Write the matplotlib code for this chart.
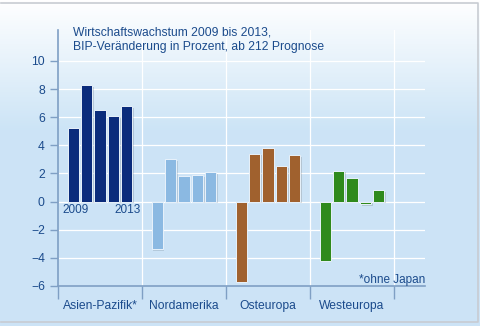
import matplotlib.pyplot as plt
import matplotlib.patheffects as pe
import numpy as np

plt.rcParams['font.family'] = ['Liberation Sans', 'DejaVu Sans']

regions = ['Asien-Pazifik*', 'Nordamerika', 'Osteuropa', 'Westeuropa']
years = ['2009', '2010', '2011', '2012', '2013']
asien = [5.2, 8.3, 6.5, 6.1, 6.8]
nordamerika = [-3.4, 3.0, 1.8, 1.9, 2.1]
osteuropa = [-5.7, 3.4, 3.8, 2.5, 3.3]
westeuropa = [-4.2, 2.2, 1.7, -0.2, 0.8]
colors = ['#0b2c7c', '#8bb9e2', '#a0612e', '#2f8a1c']

txt = '#1b4b8c'
axc = '#7f9fc4'

fig = plt.figure(figsize=(4.8, 3.26), dpi=100)

# background gradient
bg = fig.add_axes([0, 0, 1, 1])
g = np.clip(np.linspace(0, 1, 326) / 0.4, 0, 1)[:, None]
top = np.array([1.0, 1.0, 1.0])
bot = np.array([0.80, 0.894, 0.965])
img = top * (1 - g[..., None]) + bot * g[..., None]
img = np.repeat(img, 2, axis=1)
bg.imshow(img, aspect='auto', extent=[0, 1, 0, 1])
bg.plot([0.002, 0.996, 0.996, 0.002], [0.99, 0.99, 0.012, 0.012], color='#c8ccd2', lw=1.2)
bg.set_xlim(0, 1)
bg.set_ylim(0, 1)
bg.axis('off')

ax = fig.add_axes([58 / 480, 1 - 286 / 326, 367 / 480, 256 / 326])
ax.patch.set_alpha(0)
ax.set_xlim(0, 367 / 84)
ax.set_ylim(-6, 12.2)

for v in range(-6, 12, 2):
    ax.axhline(v, color='white', lw=0.9, zorder=1)
for s in range(1, 5):
    ax.axvline(s, color='white', lw=0.9, zorder=1)

pitch = 0.159
width = 0.131
series = [asien, nordamerika, osteuropa, westeuropa]
for i, vals in enumerate(series):
    xs = i + 0.5 + (np.arange(len(vals)) - 2) * pitch
    ax.bar(xs, vals, width=width, color=colors[i], edgecolor='#e8f2fb', lw=0.7, zorder=3,
           path_effects=[pe.SimplePatchShadow(offset=(1.2, -1.2), alpha=0.15), pe.Normal()])

x0 = 0.5 - 2 * pitch - width / 2
x1 = 0.5 + 2 * pitch + width / 2
ax.text(x0 - 0.06, -0.15, years[0], ha='left', va='top', fontsize=8.5, color=txt, zorder=4)
ax.text(x1 + 0.1, -0.15, years[-1], ha='right', va='top', fontsize=8.5, color=txt, zorder=4)

ax.text(0.18, 11.5, 'Wirtschaftswachstum 2009 bis 2013,\nBIP-Veränderung in Prozent, ab 212 Prognose',
        ha='left', va='center', fontsize=8.7, color=txt, linespacing=1.2)
ax.text(367 / 84, -5.6, '*ohne Japan', ha='right', va='center', fontsize=8.5, color=txt)

for sp in ['top', 'right']:
    ax.spines[sp].set_visible(False)
for sp in ['left', 'bottom']:
    ax.spines[sp].set_color(axc)
    ax.spines[sp].set_linewidth(1.2)

ax.set_yticks(range(-6, 11, 2))
ax.set_yticklabels([str(v).replace('-', '\u2212') for v in range(-6, 11, 2)])
ax.tick_params(axis='y', colors=axc, labelcolor=txt, labelsize=8.7, length=6, width=1, direction='out')
ax.set_xticks([0.5, 1.5, 2.5, 3.5])
ax.set_xticklabels(regions)
ax.set_xticks([0, 1, 2, 3, 4], minor=True)
ax.tick_params(axis='x', which='major', length=0, labelcolor=txt, labelsize=8.7, pad=10)
ax.tick_params(axis='x', which='minor', length=9, width=1, colors=axc, direction='out')

fig.savefig('out.png', dpi=100)
